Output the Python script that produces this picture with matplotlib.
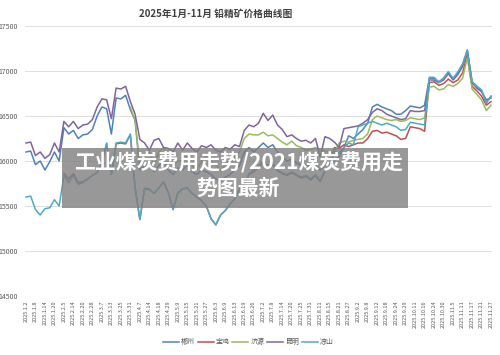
import numpy as np
import matplotlib.pyplot as plt
from matplotlib.patches import Rectangle

plt.rcParams['font.family'] = ['Noto Sans CJK SC', 'DejaVu Sans']

nan = np.nan

# tick labels (one every two data points)
dates = ["2025.1.2", "2025.1.8", "2025.1.14", "2025.1.20", "2025.2.5", "2025.2.14",
         "2025.2.20", "2025.2.28", "2025.3.7", "2025.3.13", "2025.3.25", "2025.3.31",
         "2025.4.7", "2025.4.14", "2025.4.18", "2025.4.29", "2025.5.9", "2025.5.15",
         "2025.5.21", "2025.5.27", "2025.6.3", "2025.6.9", "2025.6.13", "2025.6.19",
         "2025.6.26", "2025.7.2", "2025.7.8", "2025.7.14", "2025.7.20", "2025.7.25",
         "2025.7.31", "2025.8.11", "2025.8.15", "2025.8.21", "2025.8.27", "2025.9.2",
         "2025.9.8", "2025.9.12", "2025.9.18", "2025.9.24", "2025.9.29", "2025.10.11",
         "2025.10.16", "2025.10.24", "2025.10.30", "2025.11.5", "2025.11.11",
         "2025.11.17", "2025.11.21", "2025.11.27"]

chenzhou = [16100, 16110, 15960, 16000, 15900, 15990, 16100, 16000, 16370, 16300,
            16340, 16250, 16290, 16300, 16350, 16500, 16600, 16580, 16300, 16700,
            16690, 16730, 16570, 16450, 15900, 15950, 16000, 15880, 15950, 16000,
            15900, 15850, 15920, 15900, 15950, 15880, 15850, 15900, 15880, 15850,
            15800, 15780, 15820, 15850, 15900, 15950, 16100, 16150, 16100, 16150,
            16200, 16150, 16180, 16100, 16050, 16000, 16020, 15980, 15950, 15960,
            15930, 15950, 15900, 15950, 15980, 16000, 16050, 16150, 16280, 16250,
            16300, 16350, 16420, 16600, 16630, 16600, 16580, 16560, 16520, 16520,
            16560, 16610, 16600, 16590, 16620, 16920, 16920, 16880, 16920, 16990,
            16910, 16980, 17070, 17230, 16880, 16830, 16780, 16650, 16720]

baoji = [nan] * 8 + [
            15860, 15800, 15860, 15760, 15770, 15800, 15840, 15870, 15980, 16190,
            15850, 16190, 16200, 16190, 16290, 15700, 15350, 15690, 15680, 15640,
            15700, 15760, 15650, 15460, 15640, 15690, 15700, 15640, 15600, 15560,
            15500, 15360, 15290, 15400, 15450, 15520, 15580, 15680, 15750, 15850,
            15880, 15930, 15980, 15940, 15960, 15890, 15860, 15840, 15870, 15840,
            15810, 15830, 15790, 15840, 15770, 15890, 15940, 16150, 16140, 16180,
            16160, 16180, 16200, 16200, 16250, 16330, 16340, 16310, 16320, 16300,
            16280, 16240, 16250, 16380, 16370, 16360, 16330, 16870, 16880, 16840,
            16860, 16910, 16870, 16900, 16980, 17180, 16830, 16780, 16720, 16620, 16660]

jiyuan = [nan] * 22 + [
            16600, 16450, 15950, 16050, 16100, 15950, 16100, 16150,
            16050, 15950, 16000, 16000, 16050, 15950, 15900, 16000, 16050, 16000,
            15950, 15900, 15950, 15980, 16050, 16100, 16250, 16300, 16290, 16290,
            16320, 16280, 16290, 16250, 16210, 16180, 16220, 16170, 16150, 16120,
            16130, 16150, 16130, 16110, 16100, 16100, 16200, 16220, 16210, 16230,
            16240, 16250, 16300, 16460, 16500, 16480, 16460, 16450, 16460, 16440,
            16450, 16480, 16470, 16460, 16480, 16820, 16830, 16790, 16800, 16850,
            16830, 16860, 16920, 17150, 16800, 16740, 16680, 16560, 16620]

kunming = [16200, 16210, 16060, 16100, 16030, 16070, 16200, 16100, 16440, 16380,
           16440, 16360, 16400, 16410, 16460, 16600, 16690, 16680, 16470, 16810,
           16800, 16830, 16660, 16520, 16240, 16200, 16120, 16230, 16250, 16150,
           16140, 16100, 16200, 16120, 16200, 16140, 16100, 16170, 16150, 16180,
           16120, 16100, 16150, 16130, 16180, 16160, 16340, 16400, 16380, 16420,
           16530, 16450, 16510, 16400, 16350, 16270, 16290, 16250, 16220, 16230,
           16200, 16250, 16050, 16270, 16250, 16210, 16150, 16360, 16370, 16380,
           16390, 16420, 16460, 16540, 16580, 16560, 16520, 16500, 16480, 16460,
           16470, 16560, 16550, 16550, 16560, 16900, 16900, 16870, 16900, 16970,
           16900, 16960, 17050, 17230, 16870, 16810, 16770, 16680, 16700]

liangshan = [15600, 15610, 15460, 15400, 15470, 15480, 15570, 15500, 15840, 15760,
             15840, 15740, 15760, 15800, 15840, 15870, 15990, 16200, 15850, 16200,
             16210, 16200, 16300, 15700, 15350, 15700, 15690, 15640, 15700, 15770,
             15650, 15460, 15650, 15690, 15700, 15640, 15600, 15560, 15500, 15360,
             15290, 15400, 15450, 15520, 15580, 15680, 15750, 15860, 15900, 15950,
             16000, 15950, 15980, 15900, 15870, 15850, 15880, 15850, 15820, 15840,
             15800, 15850, 15780, 15900, 15950, 16100, 16090, 16150, 16200, 16180,
             16380, 16400, 16420, 16440, 16420, 16400, 16420, 16400, 16380, 16340,
             16350, 16430, 16420, 16410, 16400, 16930, 16930, 16870, 16920, 16990,
             16920, 16990, 17080, 17230, 16880, 16830, 16790, 16640, 16720]

names = ["郴州", "宝鸡", "济源", "昆明", "凉山"]
series = [chenzhou, baoji, jiyuan, kunming, liangshan]
colors = ["#4F81BD", "#C0504D", "#9BBB59", "#8064A2", "#4BACC6"]

fig = plt.figure(figsize=(5.0, 3.55), dpi=100)
ax = fig.add_axes([0.05, 0.1662, 0.934, 0.7606])

x = np.arange(len(chenzhou))
for name, vals, c in zip(names, series, colors):
    ax.plot(x, vals, color=c, linewidth=1.1, label=name)

ax.set_xlim(-0.2, len(x) - 0.8)
ax.set_ylim(14500, 17500)
ax.set_yticks(np.arange(14500, 17501, 500))
ax.set_xticks(np.arange(0, len(x), 2))
ax.set_xticklabels(dates, rotation=90, fontsize=4, color="#595959")
ax.tick_params(axis="y", labelsize=5, labelcolor="#595959", length=0, pad=5)
ax.tick_params(axis="x", length=0, pad=3)
ax.grid(axis="y", color="#D9D9D9", linewidth=0.6)
ax.set_axisbelow(True)
for s in ax.spines.values():
    s.set_visible(False)

fig.text(216 / 500, 1 - 14 / 355, "2025年1月-11月 铅精矿价格曲线图", ha="center",
         va="center", fontsize=7, fontweight="bold", color="#404040")

fig.legend(loc="center", bbox_to_anchor=(0.497, 1 - 342 / 355), ncol=5, frameon=False,
           fontsize=5, handlelength=2.3, columnspacing=0.4, handletextpad=0.3,
           labelcolor="#595959")

# grey caption box laid over the chart
fig.patches.append(Rectangle((62 / 500, 1 - 208 / 355), 346 / 500, 60 / 355,
                             transform=fig.transFigure, facecolor="#7F7F7F",
                             alpha=0.8, edgecolor="none", zorder=5))
fig.text(238 / 500, 1 - 163 / 355, "工业煤炭费用走势/2021煤炭费用走", ha="center",
         va="center", fontsize=15, fontweight="bold", color="white", zorder=6)
fig.text(238 / 500, 1 - 188 / 355, "势图最新", ha="center", va="center",
         fontsize=15, fontweight="bold", color="white", zorder=6)

fig.savefig("out.png", dpi=100)
